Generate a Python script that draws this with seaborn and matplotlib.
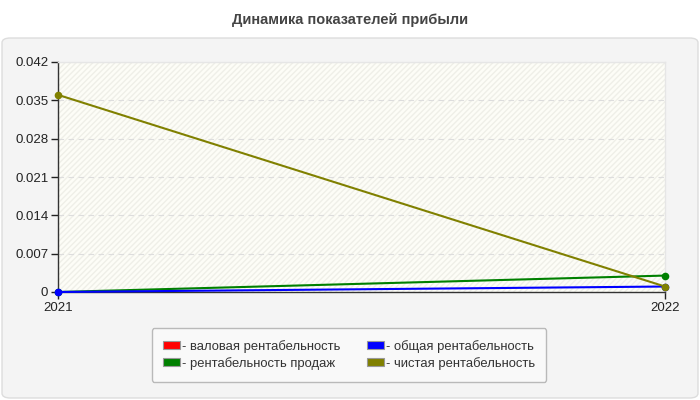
import matplotlib
matplotlib.use("Agg")
import matplotlib.pyplot as plt
import matplotlib.colors as mcolors
import seaborn as sns
import pandas as pd
from matplotlib.patches import FancyBboxPatch, Patch

# chart data
years = ["2021", "2022"]
gross = [None, None]     # валовая рентабельность (no values on the chart)
total = [0.0, 0.001]     # общая рентабельность
sales = [0.0, 0.003]     # рентабельность продаж
net = [0.036, 0.001]     # чистая рентабельность

labels = ["- валовая рентабельность", "- общая рентабельность",
          "- рентабельность продаж", "- чистая рентабельность"]
colors = ["#ff0000", "#0000ff", "#008000", "#808000"]

rows = []
for name, vals in zip(labels, [gross, total, sales, net]):
    for i, v in enumerate(vals):
        rows.append({"x": i, "year": years[i], "value": v, "series": name})
df = pd.DataFrame(rows)
df["value"] = df["value"].astype(float)

sns.set_theme(style="white")
plt.rcParams['font.family'] = ['Liberation Sans', 'DejaVu Sans']

fig = plt.figure(figsize=(7, 4), dpi=100, facecolor="white")

# outer rounded panel
panel = FancyBboxPatch((2 / 700, 2 / 400), 696 / 700, 360 / 400,
                       boxstyle="round,pad=0,rounding_size=0.012",
                       transform=fig.transFigure, facecolor="#f4f4f4",
                       edgecolor="#dddddd", linewidth=1, zorder=-10)
fig.patches.append(panel)

fig.text(0.5, 1 - 20 / 400, "Динамика показателей прибыли", ha="center",
         va="center", fontsize=10.5, fontweight="bold", color="#444444")

ax = fig.add_axes([58 / 700, 1 - 292 / 400, 607 / 700, 230 / 400])
ax.set_facecolor("#fdfdf7")
ax.add_patch(plt.Rectangle((0, 0), 1, 1, transform=ax.transAxes,
                           facecolor="none", edgecolor="#efefe8",
                           hatch="//////", linewidth=0, zorder=0))

sns.lineplot(data=df, x="x", y="value", hue="series", palette=colors,
             hue_order=labels, ax=ax, linewidth=1.5, marker="o",
             markersize=5.5, markeredgewidth=0, legend=False, zorder=3)
# draw order: green under blue, olive on top
z = {"#008000": 3, "#0000ff": 4, "#808000": 5, "#ff0000": 2}
for line in ax.lines:
    line.set_clip_on(False)
    c = mcolors.to_hex(line.get_color())
    line.set_zorder(z.get(c, 3))

ax.set_xlim(0, 1)
ax.set_ylim(0, 0.042)
yt = [0, 0.007, 0.014, 0.021, 0.028, 0.035, 0.042]
ax.set_yticks(yt)
ax.set_yticklabels(["0" if t == 0 else f"{t:.3f}" for t in yt])
ax.set_xticks([0, 1])
ax.set_xticklabels(years)
ax.set_xlabel("")
ax.set_ylabel("")
ax.tick_params(axis="both", labelsize=9.5, colors="#222222", length=5,
               width=1, direction="out", pad=2, left=True, bottom=True)
ax.grid(axis="y", color="#dddddd", linestyle=(0, (5, 4)), linewidth=0.8)

for side in ["top", "right"]:
    ax.spines[side].set_color("#e6e6e6")
    ax.spines[side].set_linewidth(1)
for side in ["left", "bottom"]:
    ax.spines[side].set_color("#333333")
    ax.spines[side].set_linewidth(1)

# legend filled row by row like the original
order = [0, 2, 1, 3]
handles = [Patch(facecolor=colors[i], edgecolor="#999999", linewidth=0.8)
           for i in order]
leg = fig.legend(handles, [labels[i] for i in order], loc="center", ncol=2,
                 bbox_to_anchor=(349 / 700, 1 - 355 / 400), fontsize=9.4,
                 frameon=True, fancybox=True, handlelength=1.3,
                 handleheight=0.55, handletextpad=0.15, columnspacing=2.0,
                 borderpad=0.9, labelspacing=0.3)
leg.get_frame().set_facecolor("#fbfbfb")
leg.get_frame().set_edgecolor("#aaaaaa")
for t in leg.get_texts():
    t.set_color("#333333")

fig.savefig("out.png", dpi=100, facecolor=fig.get_facecolor())
